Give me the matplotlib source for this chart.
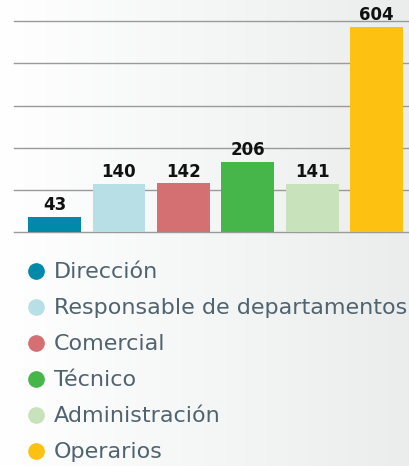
import matplotlib

matplotlib.use("Agg")
import matplotlib.pyplot as plt
import numpy as np
from matplotlib.lines import Line2D

categories = [
    "Dirección",
    "Responsable de departamentos",
    "Comercial",
    "Técnico",
    "Administración",
    "Operarios",
]
values = [43, 140, 142, 206, 141, 604]
colors = ["#0089a8", "#b9dfe6", "#d46f72", "#46b64a", "#c8e3bb", "#fcc111"]

fig = plt.figure(figsize=(4.10, 4.66), dpi=100)

# soft grey gradient behind everything
bg = fig.add_axes([0, 0, 1, 1], zorder=-10)
grad = np.linspace(0, 1, 256).reshape(1, -1)
bg.imshow(grad, aspect="auto", cmap=matplotlib.colors.LinearSegmentedColormap.from_list(
    "bg", ["#ffffff", "#ebeded"]), extent=[0, 1, 0, 1])
bg.set_axis_off()

ax = fig.add_axes([0.034, 0.503, 0.966, 0.451])
ax.patch.set_alpha(0)
x = np.arange(len(values))
ax.bar(x, values, width=0.82, color=colors, zorder=3)
for xi, v in zip(x, values):
    ax.annotate(str(v), (xi, v), xytext=(0, 2), textcoords="offset points",
                ha="center", va="bottom", fontsize=12, fontweight="bold",
                color="#111111", zorder=4)

ax.set_xlim(-0.63, 5.52)
ax.set_ylim(0, 620)
ax.set_yticks(np.linspace(0, 620, 6))
ax.yaxis.grid(True, color="#9a9a9a", linewidth=1.0, zorder=0)
for gl in ax.get_ygridlines():
    gl.set_clip_on(False)
ax.tick_params(left=False, bottom=False, labelleft=False, labelbottom=False)
for s in ax.spines.values():
    s.set_visible(False)

handles = [Line2D([], [], marker="o", linestyle="none", markersize=11,
                  markerfacecolor=c, markeredgecolor=c) for c in colors]
fig.legend(handles, categories, loc="upper left", bbox_to_anchor=(0.061, 0.437),
           frameon=False, fontsize=16, labelcolor="#4f6470",
           handletextpad=0.3, labelspacing=0.72, handlelength=1.0,
           borderaxespad=0, borderpad=0)

fig.savefig("out.png", dpi=100)
